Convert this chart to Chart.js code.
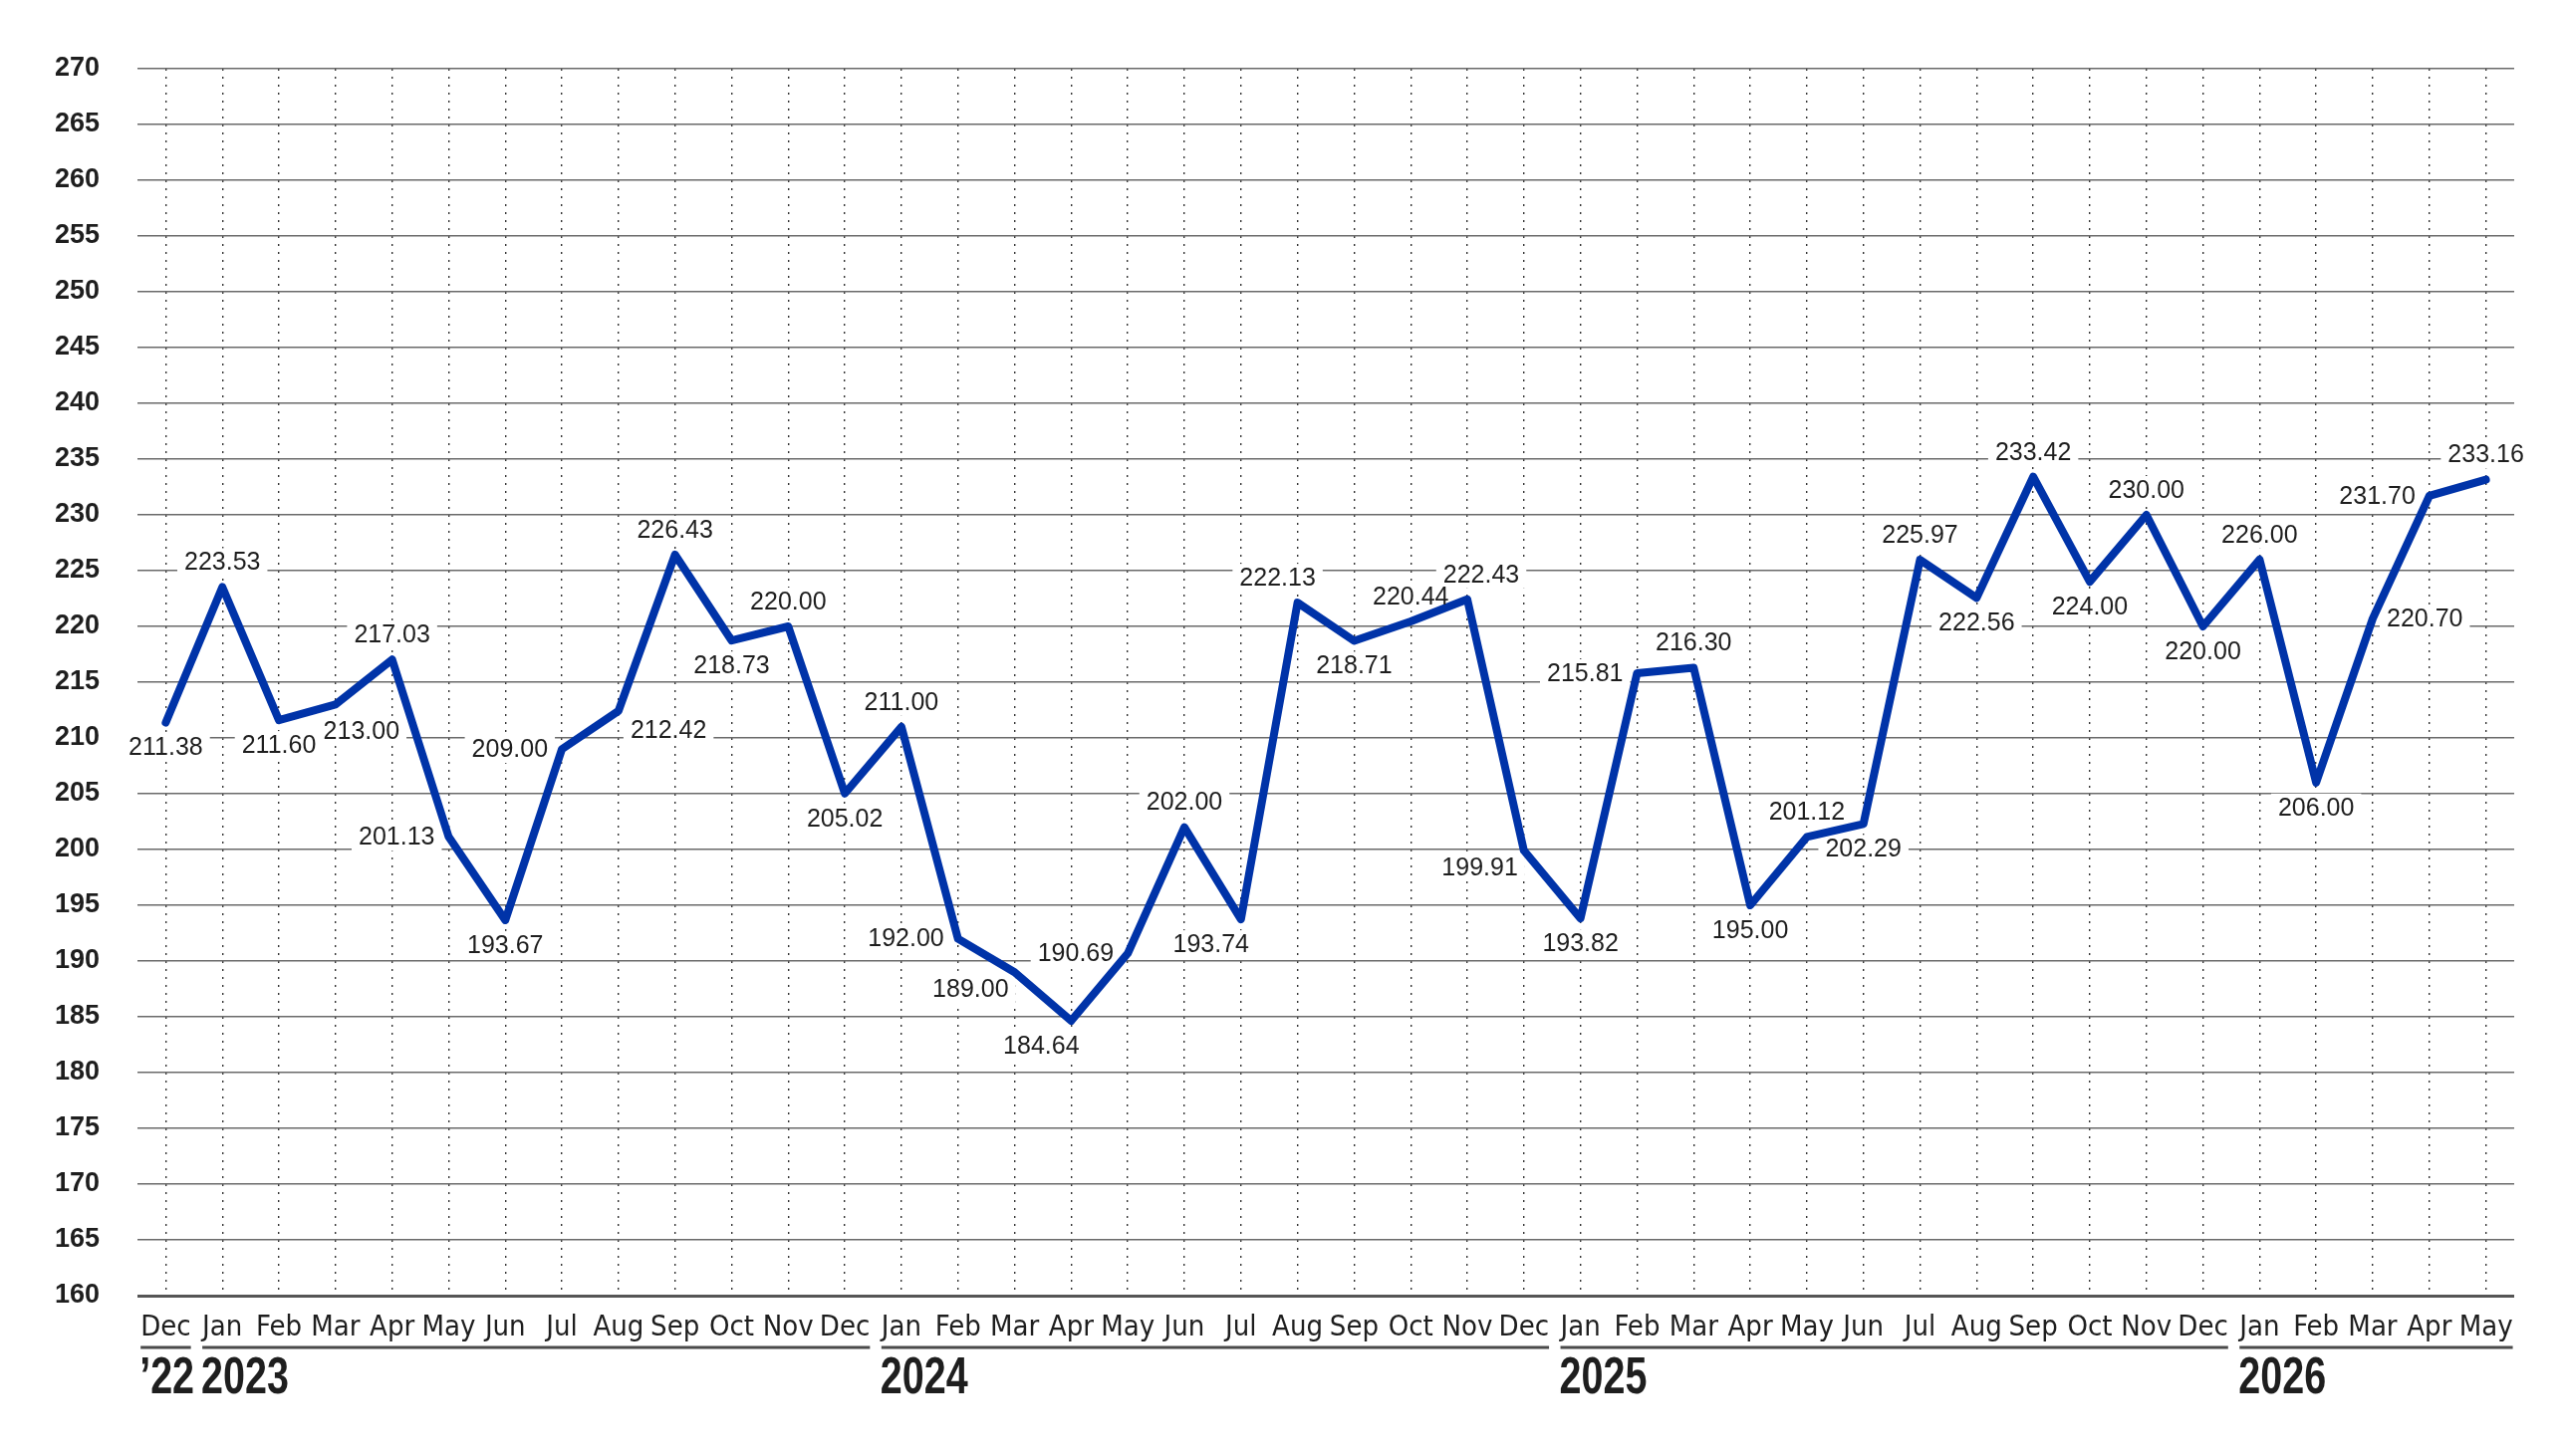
<!DOCTYPE html>
<html>
<head>
<meta charset="utf-8">
<script src="https://cdn.jsdelivr.net/npm/chart.js@4.4.1/dist/chart.umd.min.js"></script>
<style>
  html, body { margin: 0; padding: 0; background: #fff; }
  #wrap { width: 2577px; height: 1462px; }
</style>
</head>
<body>
<div id="wrap"><canvas id="chart" width="2577" height="1462"></canvas></div>
<script>
// month ticks, Dec 2022 .. May 2026
var months = ["Dec",
  "Jan", "Feb", "Mar", "Apr", "May", "Jun", "Jul", "Aug", "Sep", "Oct", "Nov", "Dec",
  "Jan", "Feb", "Mar", "Apr", "May", "Jun", "Jul", "Aug", "Sep", "Oct", "Nov", "Dec",
  "Jan", "Feb", "Mar", "Apr", "May", "Jun", "Jul", "Aug", "Sep", "Oct", "Nov", "Dec",
  "Jan", "Feb", "Mar", "Apr", "May"];

// year row under the months, and how many months each one covers
var yearLabels = ["\u201922", "2023", "2024", "2025", "2026"];
var yearSpans = [1, 12, 12, 12, 5];

var prices = [211.38,
  223.53, 211.60, 213.00, 217.03, 201.13, 193.67, 209.00, 212.42, 226.43, 218.73, 220.00, 205.02,
  211.00, 192.00, 189.00, 184.64, 190.69, 202.00, 193.74, 222.13, 218.71, 220.44, 222.43, 199.91,
  193.82, 215.81, 216.30, 195.00, 201.12, 202.29, 225.97, 222.56, 233.42, 224.00, 230.00, 220.00,
  226.00, 206.00, 220.70, 231.70, 233.16];

var yMin = 160, yMax = 270, yStep = 5;

// where each value label sits around its point
var labelSpots = ["b",
  "t", "b", "br", "t", "l", "b", "l", "rb", "t", "b", "t", "b",
  "t", "l", "lb", "bl", "l", "t", "bl", "tl", "b", "t", "tr", "lb",
  "b", "l", "t", "b", "t", "b", "t", "b", "t", "b", "t", "b",
  "t", "b", "r", "l", "t"];

var condensed = '"DejaVu Sans Condensed", "Liberation Sans Narrow", "Arial Narrow", sans-serif';
var sans = '"Liberation Sans", Arial, Helvetica, sans-serif';
var valueFont = '25px ' + sans;

function spotFor(pt, w, spot) {
  var dx = 0, dy = 0;
  switch (spot) {
    case 't': dy = -25; break;
    case 'b': dy = 25; break;
    case 'l': dx = -(w / 2 + 14); break;
    case 'r': dx = w / 2 + 14; break;
    case 'tl': dx = -20; dy = -25; break;
    case 'tr': dx = 14; dy = -25; break;
    case 'bl': dx = -30; dy = 25; break;
    case 'br': dx = 26; dy = 27; break;
    case 'lb': dx = -(w / 2 + 6); dy = 17; break;
    case 'rb': dx = w / 2 + 12; dy = 19; break;
  }
  return { x: pt.x + dx, y: pt.y + dy };
}

function drawValueLabels(chart, boxesOnly) {
  var ctx = chart.ctx;
  var pts = chart.getDatasetMeta(0).data;
  ctx.save();
  ctx.font = valueFont;
  ctx.textAlign = 'center';
  ctx.textBaseline = 'middle';
  pts.forEach(function(pt, i) {
    var txt = prices[i].toFixed(2);
    var w = ctx.measureText(txt).width;
    var p = spotFor(pt, w, labelSpots[i]);
    if (boxesOnly) {
      ctx.fillStyle = '#fff';
      ctx.fillRect(p.x - w / 2 - 7, p.y - 14, w + 14, 28);
    } else {
      ctx.fillStyle = '#1e1e1e';
      ctx.fillText(txt, p.x, p.y + 1);
    }
  });
  ctx.restore();
}

var valueLabels = {
  id: 'valueLabels',
  beforeDatasetsDraw: function(chart) { drawValueLabels(chart, true); },
  afterDatasetsDraw: function(chart) { drawValueLabels(chart, false); }
};

var yearRow = {
  id: 'yearRow',
  afterDraw: function(chart) {
    var ctx = chart.ctx, xs = chart.scales.x;
    var start = 0;
    ctx.save();
    for (var g = 0; g < yearLabels.length; g++) {
      var end = start + yearSpans[g] - 1;
      ctx.font = '29px ' + condensed;
      var left = xs.getPixelForValue(start) - ctx.measureText(months[start]).width / 2;
      var right = xs.getPixelForValue(end) + ctx.measureText(months[end]).width / 2;
      var lineY = xs.top + 52;
      ctx.strokeStyle = '#4a4a4a';
      ctx.lineWidth = 3;
      ctx.beginPath();
      ctx.moveTo(left, lineY);
      ctx.lineTo(right, lineY);
      ctx.stroke();
      // bold narrow look: squeeze the bold face horizontally
      ctx.save();
      ctx.translate(left - 1, xs.top + 98);
      ctx.scale(0.76, 1);
      ctx.font = 'bold 52px ' + sans;
      ctx.fillStyle = '#1e1e1e';
      ctx.textAlign = 'left';
      ctx.textBaseline = 'alphabetic';
      ctx.fillText(yearLabels[g], 0, 0);
      ctx.restore();
      start = end + 1;
    }
    ctx.restore();
  }
};

var ctx = document.getElementById('chart').getContext('2d');
new Chart(ctx, {
  type: 'line',
  data: {
    labels: months,
    datasets: [{
      data: prices,
      borderColor: '#0033a8',
      borderWidth: 8,
      pointRadius: 0,
      tension: 0,
      fill: false,
      borderJoinStyle: 'round',
      borderCapStyle: 'round'
    }]
  },
  options: {
    responsive: false,
    animation: false,
    devicePixelRatio: 1,
    layout: { padding: { top: 69, right: 53, left: 0, bottom: 0 } },
    plugins: {
      legend: { display: false },
      tooltip: { enabled: false }
    },
    scales: {
      x: {
        offset: true,
        grid: { offset: false, color: '#333', lineWidth: 1.4, drawTicks: false },
        border: { display: false, dash: [2, 6] },
        ticks: {
          color: '#1e1e1e',
          font: { family: condensed, size: 29 },
          padding: 15,
          maxRotation: 0,
          autoSkip: false
        },
        afterFit: function(s) { s.height = 161; }
      },
      y: {
        min: yMin,
        max: yMax,
        ticks: {
          stepSize: yStep,
          color: '#1e1e1e',
          font: { family: sans, size: 27, weight: 'bold' },
          padding: 38
        },
        grid: {
          drawTicks: false,
          color: function(c) { return c.tick && c.tick.value === yMin ? '#555' : '#6a6a6a'; },
          lineWidth: function(c) { return c.tick && c.tick.value === yMin ? 3 : 1.5; }
        },
        border: { display: false },
        afterFit: function(s) { s.width = 138; }
      }
    }
  },
  plugins: [valueLabels, yearRow]
});
</script>
</body>
</html>
